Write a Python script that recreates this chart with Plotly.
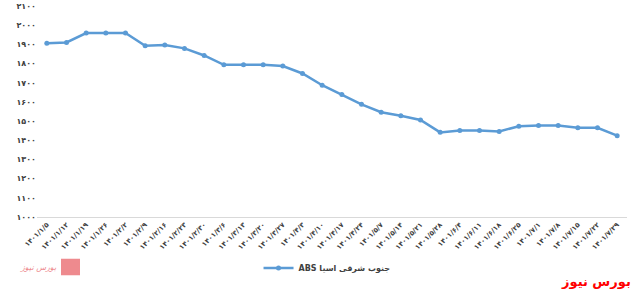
import plotly.graph_objects as go

dates = ["۱۴۰۱/۱/۵", "۱۴۰۱/۱/۱۲", "۱۴۰۱/۱/۱۹", "۱۴۰۱/۱/۲۶", "۱۴۰۱/۲/۲", "۱۴۰۱/۲/۹",
         "۱۴۰۱/۲/۱۶", "۱۴۰۱/۲/۲۳", "۱۴۰۱/۲/۳۰", "۱۴۰۱/۳/۶", "۱۴۰۱/۳/۱۳", "۱۴۰۱/۳/۲۰",
         "۱۴۰۱/۳/۲۷", "۱۴۰۱/۴/۳", "۱۴۰۱/۴/۱۰", "۱۴۰۱/۴/۱۷", "۱۴۰۱/۴/۲۴", "۱۴۰۱/۵/۷",
         "۱۴۰۱/۵/۱۴", "۱۴۰۱/۵/۲۱", "۱۴۰۱/۵/۲۸", "۱۴۰۱/۶/۴", "۱۴۰۱/۶/۱۱", "۱۴۰۱/۶/۱۸",
         "۱۴۰۱/۶/۲۵", "۱۴۰۱/۷/۱", "۱۴۰۱/۷/۸", "۱۴۰۱/۷/۱۵", "۱۴۰۱/۷/۲۲", "۱۴۰۱/۷/۲۹"]
abs_prices = [1906, 1910, 1959, 1959, 1959, 1893, 1896, 1879, 1842, 1793, 1793, 1793,
              1787, 1748, 1687, 1638, 1587, 1546, 1528, 1506, 1441, 1451, 1451, 1446,
              1473, 1477, 1477, 1465, 1465, 1424]
series_name = "جنوب شرقی اسیا ABS"
y_ticks = [1000, 1100, 1200, 1300, 1400, 1500, 1600, 1700, 1800, 1900, 2000, 2100]

fa_digits = str.maketrans("0123456789", "۰۱۲۳۴۵۶۷۸۹")
y_tick_text = [str(v).translate(fa_digits) for v in y_ticks]

W, H = 635, 295
L, R, T, B = 37, 8, 2, 76
pw, ph = W - L - R, H - T - B

def px(x):
    return (x - L) / pw

def py(y):
    return (H - B - y) / ph

fig = go.Figure()
fig.add_trace(go.Scatter(
    x=dates, y=abs_prices, mode="lines+markers",
    name="\u202b" + series_name + "\u202c",
    line=dict(color="#5B9BD5", width=2.5),
    marker=dict(color="#5B9BD5", size=5),
))

fig.update_layout(
    width=W, height=H,
    margin=dict(l=L, r=R, t=T, b=B),
    paper_bgcolor="white", plot_bgcolor="white",
    font=dict(family="DejaVu Sans", color="#404040"),
    showlegend=True,
    legend=dict(orientation="h", xref="container", yref="container",
                x=0.515, y=1 - 268 / H, xanchor="center", yanchor="middle",
                font=dict(size=8, family="DejaVu Sans", color="#404040", weight="bold"),
                itemwidth=30),
    xaxis=dict(type="category", tickangle=-45, showgrid=False, showline=True,
               linecolor="#D9D9D9", linewidth=1, ticks="",
               tickfont=dict(size=7, family="DejaVu Sans", color="#404040", weight="bold"),
               range=[-0.5, len(dates) - 0.5]),
    yaxis=dict(range=[1000, 2100], tickvals=y_ticks, ticktext=y_tick_text,
               ticklabeloverflow="allow",
               showgrid=False, showline=False, zeroline=False, ticks="",
               tickfont=dict(size=8, family="DejaVu Sans", color="#404040", weight="bold")),
)

fig.add_annotation(xref="paper", yref="paper", x=px(633), y=py(285),
                   text="<b>بورس نیوز</b>", showarrow=False,
                   font=dict(size=13, color="#FF0000", family="DejaVu Sans"),
                   xanchor="right", yanchor="middle")

fig.add_shape(type="rect", xref="paper", yref="paper",
              x0=px(61), x1=px(80), y0=py(279), y1=py(262),
              fillcolor="#EE8A8E", line=dict(width=0), layer="above")
fig.add_annotation(xref="paper", yref="paper", x=px(59), y=py(271),
                   text="<i>بورس نیوز</i>", showarrow=False,
                   font=dict(size=8, color="#EE8A8E", family="DejaVu Sans"),
                   xanchor="right", yanchor="middle")

fig.write_html("out.html")
